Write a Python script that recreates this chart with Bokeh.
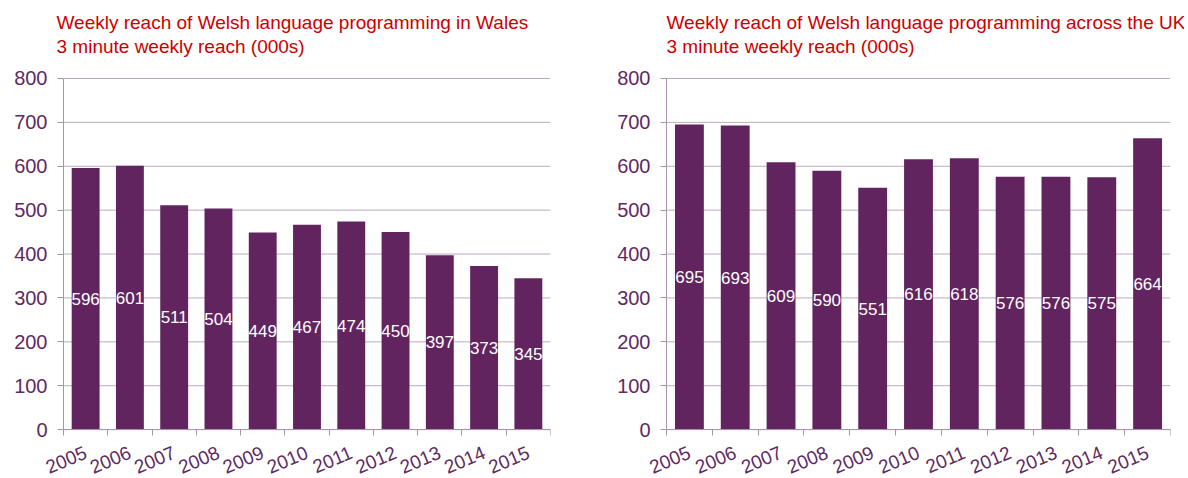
from bokeh.plotting import figure
from bokeh.layouts import row
from bokeh.models import ColumnDataSource, Range1d, FixedTicker, Title, LinearAxis
from bokeh.core.properties import value
from bokeh.embed import file_html
from bokeh.resources import INLINE

years = [2005, 2006, 2007, 2008, 2009, 2010, 2011, 2012, 2013, 2014, 2015]
wales_reach = [596, 601, 511, 504, 449, 467, 474, 450, 397, 373, 345]
uk_reach = [695, 693, 609, 590, 551, 616, 618, 576, 576, 575, 664]
y_ticks = [0, 100, 200, 300, 400, 500, 600, 700, 800]

title_wales = "Weekly reach of Welsh language programming in Wales"
title_uk = "Weekly reach of Welsh language programming across the UK"
subtitle = "3 minute weekly reach (000s)"

BAR = "#62245f"
AXIS = "#a892ab"
GRID = "#bcaabe"
TXT = "#5e2a61"
RED = "#cc0000"
FONT = "Liberation Sans"

FIG_H = 476
TITLE_PX = 65      # title band above the drawing area
HEAD_PX = 12       # room above the 800 line for its tick label
VALUE_PX = 352     # pixels from 0 to 800
BELOW_PX = FIG_H - TITLE_PX - HEAD_PX - VALUE_PX   # room under zero for year labels


def make_chart(vals, title, sub, width, left_px, cat_px, title_offset):
    n = len(years)
    idx = list(range(n))
    ymax = y_ticks[-1]
    per_px_y = ymax / VALUE_PX
    per_px_x = n / cat_px
    src = ColumnDataSource(dict(
        x=idx, top=vals, mid=[v / 2 for v in vals], label=[str(v) for v in vals]))
    p = figure(width=width, height=FIG_H, output_backend="svg", toolbar_location=None,
               x_range=Range1d(-0.5 - left_px * per_px_x, n - 0.5),
               y_range=Range1d(-BELOW_PX * per_px_y, ymax + HEAD_PX * per_px_y),
               x_axis_location=None, y_axis_location=None,
               min_border_left=0, min_border_right=width - left_px - cat_px,
               min_border_top=TITLE_PX, min_border_bottom=0)
    p.outline_line_color = None
    p.background_fill_color = "white"
    p.border_fill_color = "white"
    p.xgrid.grid_line_color = None
    p.ygrid.grid_line_color = None

    # horizontal gridlines across the category area only
    p.segment(x0=[-0.5] * len(y_ticks), x1=[n - 0.5] * len(y_ticks),
              y0=y_ticks, y1=y_ticks, line_color=GRID, line_width=1)

    p.vbar(x="x", top="top", width=0.63, source=src, fill_color=BAR, line_color=None)
    p.text(x="x", y="mid", text="label", source=src, text_color="white",
           text_align="center", text_baseline="middle",
           text_font=value(FONT), text_font_size="17px")

    t = Title(text=title + "\n" + sub, align="left", text_color=RED, text_font=FONT,
              text_font_size="19px", text_font_style="normal", text_line_height=1.13,
              standoff=19, offset=left_px + title_offset)
    p.add_layout(t, "above")

    # value axis, drawn at the left edge of the categories
    yaxis = LinearAxis(fixed_location=-0.5)
    yaxis.ticker = FixedTicker(ticks=y_ticks)
    yaxis.bounds = (y_ticks[0], y_ticks[-1])
    yaxis.axis_line_color = AXIS
    yaxis.major_tick_line_color = AXIS
    yaxis.major_tick_out = 6
    yaxis.major_tick_in = 0
    yaxis.minor_tick_line_color = None
    yaxis.major_label_text_font = FONT
    yaxis.major_label_text_font_size = "20px"
    yaxis.major_label_text_color = TXT
    yaxis.major_label_standoff = 10
    p.add_layout(yaxis, "left")

    # category axis drawn at the zero line: ticks at category boundaries
    xaxis = LinearAxis(fixed_location=0)
    xaxis.ticker = FixedTicker(ticks=idx, minor_ticks=[i - 0.5 for i in range(n + 1)])
    xaxis.bounds = (-0.5, n - 0.5)
    xaxis.major_label_overrides = {i: str(y) for i, y in enumerate(years)}
    xaxis.axis_line_color = AXIS
    xaxis.major_tick_line_color = None
    xaxis.major_tick_out = 6
    xaxis.major_tick_in = 0
    xaxis.minor_tick_line_color = AXIS
    xaxis.minor_tick_out = 6
    xaxis.minor_tick_in = 0
    xaxis.major_label_orientation = 0.4
    xaxis.major_label_text_font = FONT
    xaxis.major_label_text_font_size = "19px"
    xaxis.major_label_text_color = TXT
    xaxis.major_label_standoff = 16
    p.add_layout(xaxis, "below")
    return p


p1 = make_chart(wales_reach, title_wales, subtitle, 600, 63, 487, -7)
p2 = make_chart(uk_reach, title_uk, subtitle, 584, 66, 504, 0)
p = row(p1, p2)

open("out.html", "w").write(file_html(p, INLINE))
